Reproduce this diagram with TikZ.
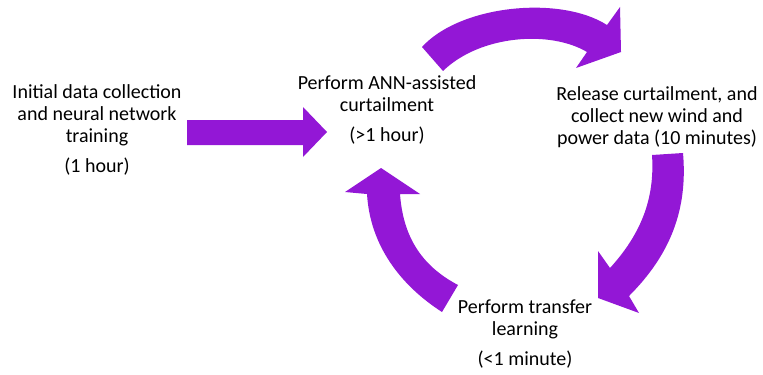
\documentclass[tikz,border=0pt]{standalone}
\usepackage{fontspec}
\setmainfont{Carlito}
\usepackage{xcolor}
\usetikzlibrary{positioning}
\definecolor{arrpurple}{RGB}{147,23,214}
\tikzset{parr/.style={fill=arrpurple, draw=none},
    lbl/.style={align=center, inner sep=0pt, font=\fontsize{10}{11}\selectfont}}

\begin{document}
\begin{tikzpicture}[x=0.5pt, y=-0.5pt]
    \useasboundingbox (0, 0) rectangle (763, 374);
    % step texts
    \node[lbl] (init) at (97, 130) {Initial data collection\\and neural network\\training\\[4pt](1 hour)};
    \node[lbl] (curt) at (387, 110) {Perform ANN-assisted\\curtailment\\[4pt](>1 hour)};
    \node[lbl] (rel) at (657, 117) {Release curtailment, and\\collect new wind and\\power data (10 minutes)};
    \node[lbl] (tl) at (525, 334) {Perform transfer\\learning\\[4pt](<1 minute)};
    % straight arrow
    \fill[parr] (187, 120) -- (303, 120) -- (303, 107) -- (327, 132)
        -- (303, 157) -- (303, 145) -- (187, 145) -- cycle;
    % top arrow
    \fill[parr] (422, 47) .. controls (460, 5) and (560, -5) .. (607, 25)
        -- (620, 7) -- (621, 52) -- (576, 68) -- (587, 52)
        .. controls (550, 30) and (480, 35) .. (443, 71) -- cycle;
    % right arrow
    \fill[parr] (683, 153) .. controls (688, 210) and (670, 255) .. (629, 296)
        -- (639, 313) -- (598, 298) -- (598, 251) -- (610, 268)
        .. controls (640, 235) and (655, 200) .. (652, 155) -- cycle;
    % left arrow
    \fill[parr] (381, 168) -- (420, 194) -- (400, 194)
        .. controls (403, 235) and (420, 265) .. (458, 285)
        -- (442, 312) .. controls (400, 285) and (370, 245) .. (367, 194)
        -- (345, 192) -- cycle;
\end{tikzpicture}
\end{document}
